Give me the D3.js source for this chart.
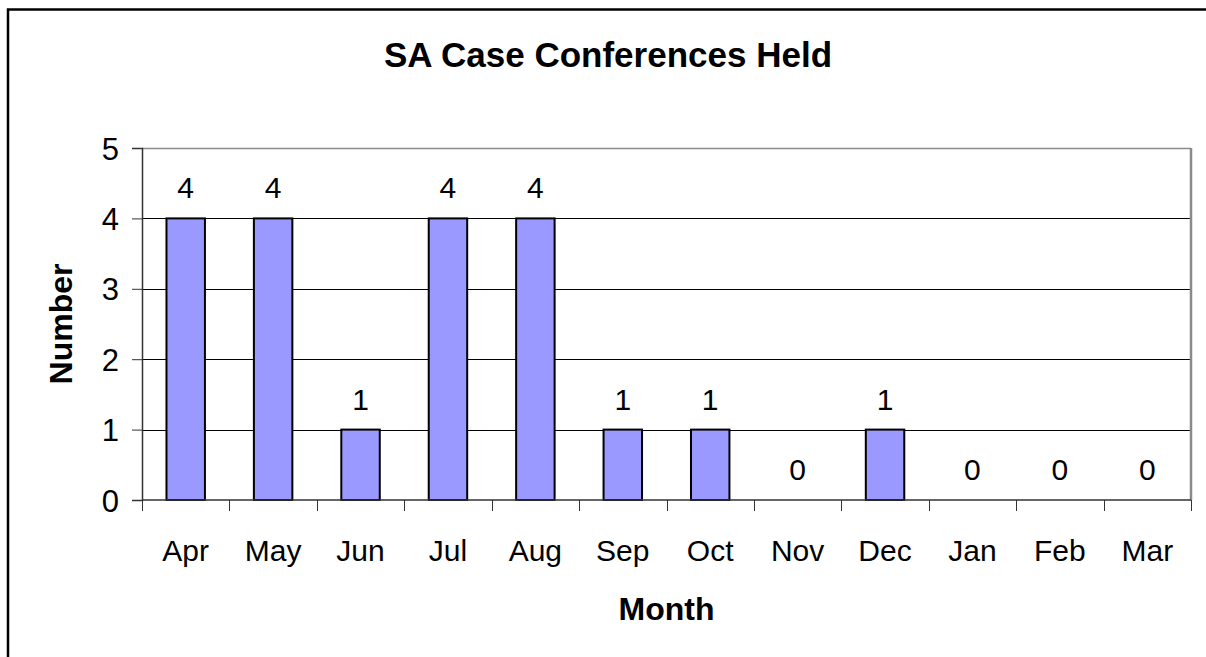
<!DOCTYPE html>
<html>
<head>
<meta charset="utf-8">
<script src="https://cdn.jsdelivr.net/npm/d3@7"></script>
<style>
  html, body { margin: 0; padding: 0; background: #fff; }
  svg { display: block; font-family: "Liberation Sans", Arial, sans-serif; }
</style>
</head>
<body>
<div id="chart"></div>
<script>
// Chart data.
const months = ["Apr", "May", "Jun", "Jul", "Aug", "Sep", "Oct", "Nov", "Dec", "Jan", "Feb", "Mar"];
const counts = [4, 4, 1, 4, 4, 1, 1, 0, 1, 0, 0, 0];
const yTicks = [0, 1, 2, 3, 4, 5];

const width = 1206;
const height = 657;
const margin = { top: 148, right: 15, bottom: 157, left: 142 };
const plotW = width - margin.left - margin.right;
const plotH = height - margin.top - margin.bottom;

let svg = d3.select("#chart")
    .append("svg")
    .attr("width", width)
    .attr("height", height);

// Outer chart border (runs off the right and bottom).
svg.append("rect")
    .attr("x", 8)
    .attr("y", 9.5)
    .attr("width", 1300)
    .attr("height", 800)
    .attr("fill", "none")
    .attr("stroke", "#000")
    .attr("stroke-width", 2.5);

// Title.
svg.append("text")
    .attr("x", 608)
    .attr("y", 67)
    .attr("text-anchor", "middle")
    .style("font-size", "35px")
    .style("font-weight", "bold")
    .text("SA Case Conferences Held");

let g = svg.append("g")
    .attr("transform", "translate(" + margin.left + "," + margin.top + ")");

// Scales.
let x = d3.scaleBand()
    .domain(months)
    .range([0, plotW])
    .paddingInner(0.56)
    .paddingOuter(0.28);

let y = d3.scaleLinear()
    .domain([0, 5])
    .range([plotH, 0]);

// Gridlines.
g.append("g")
    .selectAll("line")
    .data(yTicks.filter(d => d > 0 && d < 5))
    .enter()
    .append("line")
    .attr("x1", 0)
    .attr("x2", plotW)
    .attr("y1", d => Math.round(y(d)) + 0.5)
    .attr("y2", d => Math.round(y(d)) + 0.5)
    .attr("stroke", "#000")
    .attr("stroke-width", 1);

// Plot frame: top and right in grey.
g.append("line")
    .attr("x1", 0).attr("x2", plotW)
    .attr("y1", 0.5).attr("y2", 0.5)
    .attr("stroke", "#8a8a8a").attr("stroke-width", 1.5);
g.append("line")
    .attr("x1", plotW).attr("x2", plotW)
    .attr("y1", 0).attr("y2", plotH)
    .attr("stroke", "#8a8a8a").attr("stroke-width", 2.5);

// Bars.
g.append("g")
    .selectAll("rect")
    .data(counts.map((v, i) => ({ month: months[i], value: v })))
    .enter()
    .filter(d => d.value > 0)
    .append("rect")
    .attr("x", d => x(d.month))
    .attr("y", d => y(d.value))
    .attr("width", x.bandwidth())
    .attr("height", d => plotH - y(d.value))
    .attr("fill", "#9999ff")
    .attr("stroke", "#000")
    .attr("stroke-width", 2);

// Value labels.
g.append("g")
    .selectAll("text")
    .data(counts.map((v, i) => ({ month: months[i], value: v })))
    .enter()
    .append("text")
    .attr("x", d => x(d.month) + x.bandwidth() / 2)
    .attr("y", d => y(d.value) - 20)
    .attr("text-anchor", "middle")
    .style("font-size", "30px")
    .text(d => d.value);

// Y axis.
let yAxis = g.append("g")
    .call(d3.axisLeft(y).tickValues(yTicks).tickSize(10).tickPadding(13).tickFormat(d3.format("d")));
yAxis.select(".domain").attr("stroke", "#333").attr("stroke-width", 1.5);
yAxis.selectAll(".tick line").attr("stroke", "#333");
yAxis.selectAll(".tick text")
    .attr("fill", "#000")
    .style("font-size", "31px")
    .style("font-family", "'Liberation Sans', Arial, sans-serif")
    .attr("dy", "0.36em");

// X axis with ticks at category boundaries.
let xAxis = g.append("g")
    .attr("transform", "translate(0," + plotH + ")");
xAxis.append("line")
    .attr("x1", 0).attr("x2", plotW)
    .attr("y1", 0).attr("y2", 0)
    .attr("stroke", "#333").attr("stroke-width", 1.5);
xAxis.selectAll(".xtick")
    .data(d3.range(months.length + 1))
    .enter()
    .append("line")
    .attr("class", "xtick")
    .attr("x1", i => Math.round(i * plotW / months.length) + 0.5)
    .attr("x2", i => Math.round(i * plotW / months.length) + 0.5)
    .attr("y1", 0)
    .attr("y2", 11)
    .attr("stroke", "#333");
xAxis.selectAll(".xlabel")
    .data(months)
    .enter()
    .append("text")
    .attr("class", "xlabel")
    .attr("x", d => x(d) + x.bandwidth() / 2)
    .attr("y", 61)
    .attr("text-anchor", "middle")
    .style("font-size", "30px")
    .text(d => d);

// Axis titles.
svg.append("text")
    .attr("transform", "translate(72," + (margin.top + plotH / 2) + ") rotate(-90)")
    .attr("text-anchor", "middle")
    .style("font-size", "32px")
    .style("font-weight", "bold")
    .text("Number");

svg.append("text")
    .attr("x", margin.left + plotW / 2)
    .attr("y", 620)
    .attr("text-anchor", "middle")
    .style("font-size", "32px")
    .style("font-weight", "bold")
    .text("Month");
</script>
</body>
</html>
